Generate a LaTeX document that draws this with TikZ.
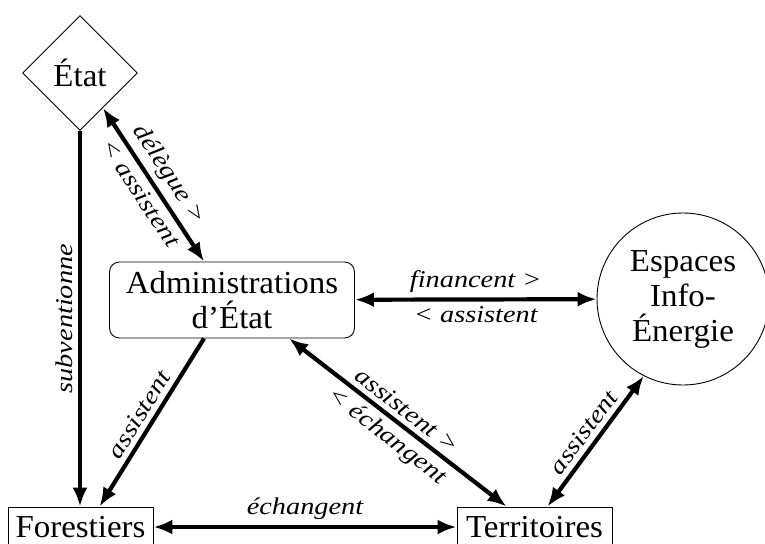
\documentclass[tikz,border=0pt]{standalone}
\usepackage{fontspec}
\setmainfont{Liberation Serif}
\newfontfamily\labfont{Liberation Serif Italic}[FakeStretch=1.18]
\newfontfamily\boxfont{Liberation Serif}[FakeStretch=1.03]
\usetikzlibrary{shapes.geometric,arrows.meta,calc}
\begin{document}
\begin{tikzpicture}[x=1pt,y=-1pt,
  every node/.style={font=\boxfont\fontsize{32}{35}\selectfont},
  box/.style={draw,line width=0.9pt,align=center,inner sep=0pt},
  conn/.style={line width=4.2pt,{Latex[length=19pt,width=15pt]}-{Latex[length=19pt,width=15pt]}},
  conn1/.style={line width=4.2pt,{Latex[length=19pt,width=15pt]}-},
  lab/.style={font=\labfont\fontsize{24}{26}\selectfont,sloped,inner sep=5pt}]
\useasboundingbox (0,0) rectangle (765,543);
\node[box,diamond,minimum width=115pt,minimum height=115pt] (etat) at (80,73) {État};
\node[box,rounded corners=10pt,minimum width=245pt,minimum height=76pt] (admin) at (232,300) {Administrations\\d’État};
\node[box,circle,minimum size=172pt] (esp) at (683,299) {Espaces\\Info-\\Énergie};
\node[box,minimum width=145pt,minimum height=40pt] (forest) at (80.5,527) {Forestiers};
\node[box,minimum width=155pt,minimum height=40pt] (terr) at (534.5,527) {Territoires};

\draw[conn1] (forest.north -| etat.south) -- (etat.south)
  node[lab,midway,above] {subventionne};
\draw[conn] (etat) -- ($(admin.north west)+(95,0)$)
  node[lab,midway,above] {délègue >}
  node[lab,midway,below] {< assistent};
\draw[conn] (admin) -- (esp)
  node[lab,midway,above] {financent >}
  node[lab,midway,below] {< assistent};
\draw[conn1] ($(forest.north west)+(92,0)$) -- ($(admin.south west)+(95,0)$)
  node[lab,midway,above] {assistent};
\draw[conn] ($(admin.south west)+(180,0)$) -- ($(terr.north west)+(50,0)$)
  node[lab,midway,above] {assistent >}
  node[lab,midway,below] {< échangent};
\draw[conn] (forest) -- (terr)
  node[lab,midway,above] {échangent};
\draw[conn] ($(terr.north west)+(91,0)$) -- (esp.243)
  node[lab,midway,above] {assistent};
\end{tikzpicture}
\end{document}
